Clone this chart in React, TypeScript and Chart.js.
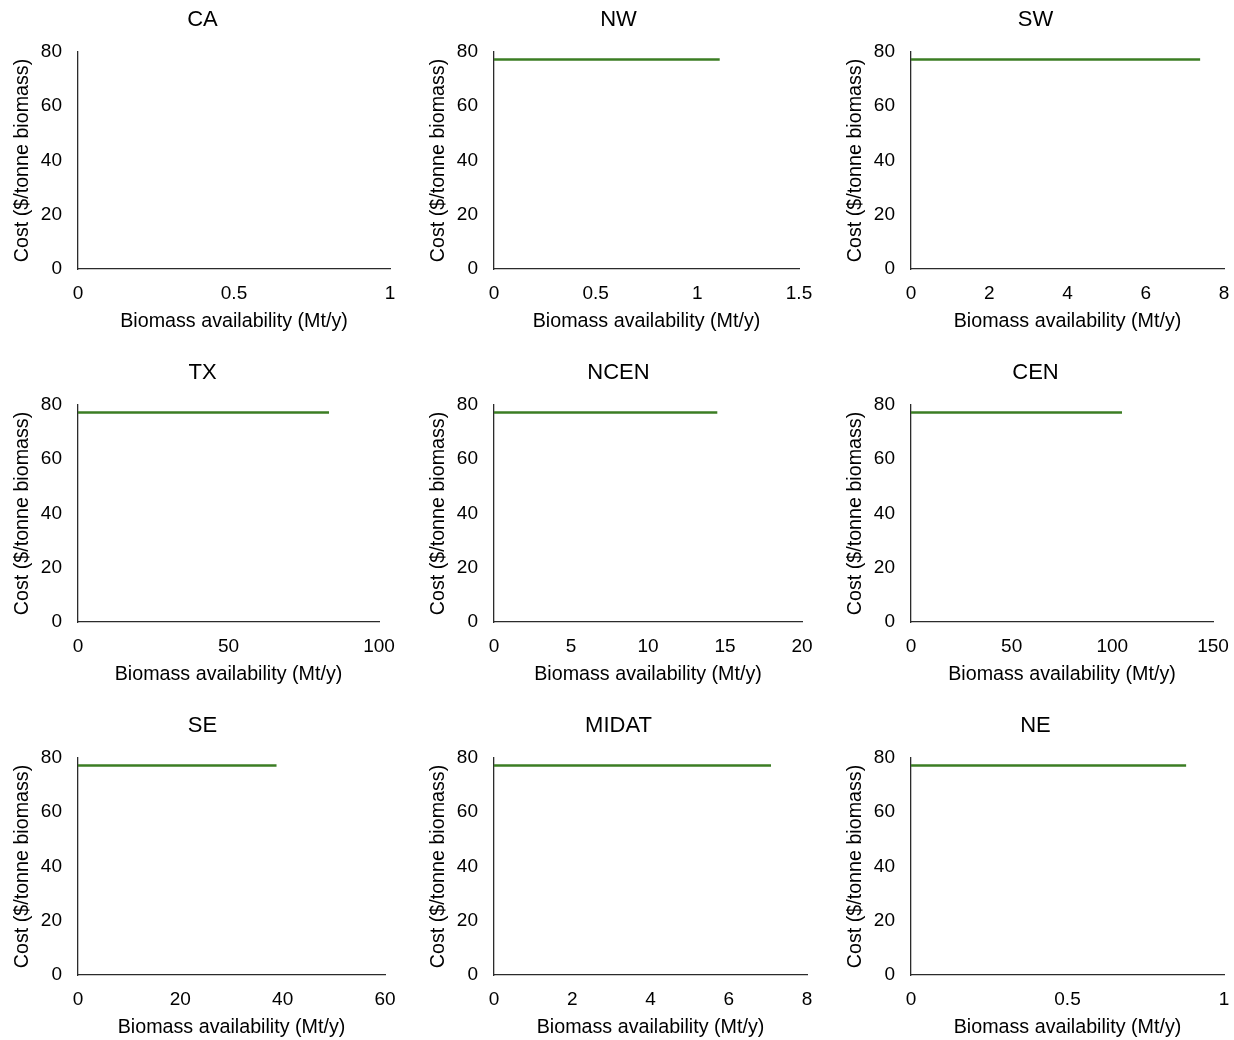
import React, { useEffect, useRef } from "react";
import { Chart, registerables } from "chart.js";

Chart.register(...registerables);

// ---- Data ----
const regions = ["CA", "NW", "SW", "TX", "NCEN", "CEN", "SE", "MIDAT", "NE"];
// maximum of the biomass availability axis (Mt/y) per region
const xAxisMax = [1, 1.5, 8, 100, 20, 150, 60, 8, 1];
const xAxisStep = [0.5, 0.5, 2, 50, 5, 50, 20, 2, 0.5];
// supply curve: availability (Mt/y) reached at the given cost ($/tonne)
const availabilityEnd: (number | null)[] = [null, 1.11, 7.39, 83.4, 14.5, 104.8, 38.8, 7.08, 0.879];
const costLevel: (number | null)[] = [null, 77.2, 77.2, 77.2, 77.2, 77.2, 77.2, 77.2, 77.2];
const yAxisMax = 80;
const yAxisStep = 20;
const xTitle = "Biomass availability (Mt/y)";
const yTitle = "Cost ($/tonne biomass)";

// ---- Layout (positions/sizes) ----
const colLeft = [0, 416, 833];
const rowTop = [0, 353, 706];
const canvasW = 405;
const canvasH = 345;
const plotRightAbs = [390, 799, 1224, 379, 802, 1213, 385, 807, 1224];
const yAxisWidth = 78;
const plotBottom = 269;

const FONT = "'Liberation Sans', Arial, Helvetica, sans-serif";
const GREEN = "#3b7d23";
const AXIS = "#2b2b2b";
const TEXT = "#000000";

const fmt = (v: any) => String(Math.round(Number(v) * 1000) / 1000);

function Panel({ idx }: { idx: number }) {
  const ref = useRef<HTMLCanvasElement>(null);
  const col = idx % 3;
  const row = Math.floor(idx / 3);
  useEffect(() => {
    if (!ref.current) return;
    const end = availabilityEnd[idx];
    const c = costLevel[idx];
    const data =
      end !== null && c !== null
        ? [
            { x: 0, y: c },
            { x: end, y: c },
          ]
        : [];
    const padRight = colLeft[col] + canvasW - plotRightAbs[idx];
    const chart = new Chart(ref.current, {
      type: "line",
      data: {
        datasets: [
          {
            data,
            borderColor: GREEN,
            borderWidth: 2.5,
            pointRadius: 0,
            fill: false,
            tension: 0,
          },
        ],
      },
      options: {
        animation: false,
        responsive: false,
        devicePixelRatio: 1,
        layout: { padding: 0 },
        plugins: {
          legend: { display: false },
          tooltip: { enabled: false },
          title: {
            display: true,
            text: regions[idx],
            color: TEXT,
            font: { family: FONT, size: 22, weight: "normal", lineHeight: 1.2 },
            padding: { top: 7, bottom: 18.6 },
          },
        },
        scales: {
          x: {
            type: "linear",
            min: 0,
            max: xAxisMax[idx],
            grid: { display: false, drawTicks: true, tickLength: 13 },
            border: { display: true, color: AXIS, width: 1.3 },
            ticks: {
              stepSize: xAxisStep[idx],
              color: TEXT,
              padding: 0,
              maxRotation: 0,
              font: { family: FONT, size: 19 },
              callback: (v: any) => fmt(v),
            },
            title: {
              display: true,
              text: xTitle,
              color: TEXT,
              font: { family: FONT, size: 19.7, lineHeight: 1.2 },
              padding: { top: 0, bottom: 11.4 },
            },
            afterFit: (scale: any) => {
              scale.height = canvasH - plotBottom;
              scale.paddingLeft = 0;
              scale.paddingRight = padRight;
            },
          },
          y: {
            type: "linear",
            min: 0,
            max: yAxisMax,
            grid: { display: false, drawTicks: false },
            border: { display: true, color: AXIS, width: 1.3 },
            ticks: {
              stepSize: yAxisStep,
              color: TEXT,
              padding: 16,
              font: { family: FONT, size: 19 },
              callback: (v: any) => fmt(v),
            },
            title: {
              display: true,
              text: yTitle,
              color: TEXT,
              font: { family: FONT, size: 19.7, lineHeight: 1.2 },
              padding: { top: 10.6, bottom: 0 },
            },
            afterFit: (scale: any) => {
              scale.width = yAxisWidth;
            },
          },
        },
      } as any,
    });
    return () => chart.destroy();
  }, [idx]);
  return (
    <div
      style={{
        position: "absolute",
        left: colLeft[col],
        top: rowTop[row],
        width: canvasW,
        height: canvasH,
      }}
    >
      <canvas ref={ref} width={canvasW} height={canvasH} style={{ display: "block" }} />
    </div>
  );
}

export default function App() {
  return (
    <div
      style={{
        position: "absolute",
        left: 0,
        top: 0,
        width: 1234,
        height: 1040,
        overflow: "hidden",
        background: "#ffffff",
      }}
    >
      {regions.map((_, i) => (
        <Panel key={i} idx={i} />
      ))}
    </div>
  );
}
